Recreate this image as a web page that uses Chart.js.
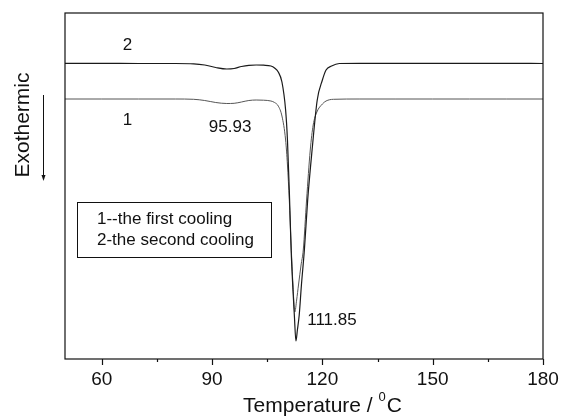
<!DOCTYPE html>
<html>
<head>
<meta charset="utf-8">
<script src="https://cdn.jsdelivr.net/npm/chart.js@4/dist/chart.umd.min.js"></script>
<style>
  body { margin: 0; background: #fff; }
  #wrap { width: 561px; height: 416px; }
</style>
</head>
<body>
<div id="wrap"><canvas id="dsc" width="561" height="416"></canvas></div>
<script>
// DSC cooling curves, heat flow in arbitrary units (no y scale shown)
const temp2 = [50, 60, 70, 80, 85, 88, 91, 94, 96, 98, 100, 102, 104, 106, 107, 108, 109, 110, 110.5, 111, 111.5, 112, 112.4, 112.8, 113.2, 113.7, 114.3, 115.1, 116, 117.2, 118.6, 120, 121, 122.5, 124.6, 130, 140, 150, 160, 170, 180];
const flow2 = [29.97, 29.97, 29.95, 29.95, 29.92, 29.8, 29.55, 29.4, 29.45, 29.65, 29.77, 29.8, 29.78, 29.7, 29.5, 29.1, 28.1, 25.3, 22.3, 17.3, 11.3, 7.3, 4.6, 2.2, 3.3, 4.8, 7.8, 11.3, 16.3, 21.3, 26.3, 28.3, 29.3, 29.7, 29.95, 29.97, 29.97, 29.97, 29.97, 29.97, 29.95];

const temp1 = [50, 60, 70, 80, 85, 88, 91, 94, 96, 98, 100, 102, 104, 106, 107, 108, 109, 110, 110.5, 111, 111.5, 112, 112.5, 113, 113.5, 114.2, 114.8, 115.7, 116.7, 117.5, 118.5, 120, 121, 123, 130, 140, 150, 160, 170, 180];
const flow1 = [26.4, 26.4, 26.4, 26.4, 26.37, 26.25, 26.05, 25.95, 25.97, 26.1, 26.25, 26.3, 26.28, 26.2, 26.05, 25.7, 24.7, 22.3, 19.8, 16.3, 11.8, 7.8, 5.1, 6.3, 7.8, 9.8, 11.3, 16.3, 21.3, 23.8, 25.1, 25.9, 26.2, 26.37, 26.4, 26.4, 26.4, 26.4, 26.4, 26.4];

const majorTicks = [60, 90, 120, 150, 180];
const minorTicks = [75, 105, 135, 165];

// text notes placed in data coordinates
const notes = [
  { text: '2', x: 67, y: 31.8 },
  { text: '1', x: 67, y: 24.3 },
  { text: '95.93', x: 94.9, y: 23.6 },
  { text: '111.85', x: 122.6, y: 4.3 }
];

function toPoints(xs, ys) {
  return xs.map((x, i) => ({ x: x, y: ys[i] }));
}

const FONT = '"Liberation Sans", Arial, sans-serif';

const framePlugin = {
  id: 'frame',
  afterDraw(chart) {
    const ctx = chart.ctx;
    const a = chart.chartArea;
    const xs = chart.scales.x;
    const ys = chart.scales.y;
    ctx.save();
    ctx.strokeStyle = '#111';
    ctx.lineWidth = 1.2;
    ctx.strokeRect(a.left, a.top, a.right - a.left, a.bottom - a.top);

    // bottom ticks, pointing out
    ctx.beginPath();
    majorTicks.forEach(t => {
      const px = Math.round(xs.getPixelForValue(t)) + 0.5;
      ctx.moveTo(px, a.bottom); ctx.lineTo(px, a.bottom + 6);
    });
    minorTicks.forEach(t => {
      const px = Math.round(xs.getPixelForValue(t)) + 0.5;
      ctx.moveTo(px, a.bottom); ctx.lineTo(px, a.bottom + 3);
    });
    ctx.stroke();

    ctx.fillStyle = '#111';
    ctx.textAlign = 'center';
    ctx.textBaseline = 'middle';
    ctx.font = '19px ' + FONT;
    majorTicks.forEach(t => {
      ctx.fillText(String(t), xs.getPixelForValue(t), a.bottom + 21);
    });

    // x title with superscript degree mark
    const main = 'Temperature / ';
    const sup = '0';
    const tail = 'C';
    ctx.font = '21px ' + FONT;
    const w1 = ctx.measureText(main).width;
    const w3 = ctx.measureText(tail).width;
    ctx.font = '13px ' + FONT;
    const w2 = ctx.measureText(sup).width;
    let x0 = 322 - (w1 + w2 + w3) / 2;
    ctx.textAlign = 'left';
    ctx.textBaseline = 'alphabetic';
    ctx.font = '21px ' + FONT;
    ctx.fillText(main, x0, 412);
    ctx.font = '13px ' + FONT;
    ctx.fillText(sup, x0 + w1, 401);
    ctx.font = '21px ' + FONT;
    ctx.fillText(tail, x0 + w1 + w2 + 1, 412);

    // y title and arrow
    ctx.save();
    ctx.translate(23, 125);
    ctx.rotate(-Math.PI / 2);
    ctx.textAlign = 'center';
    ctx.textBaseline = 'middle';
    ctx.font = '21px ' + FONT;
    ctx.fillText('Exothermic', 0, 0);
    ctx.restore();
    ctx.lineWidth = 1;
    ctx.beginPath();
    ctx.moveTo(43.5, 95); ctx.lineTo(43.5, 178);
    ctx.stroke();
    ctx.beginPath();
    ctx.moveTo(41.5, 175); ctx.lineTo(43.5, 181); ctx.lineTo(45.5, 175);
    ctx.closePath();
    ctx.fill();

    // notes
    ctx.font = '17px ' + FONT;
    ctx.textAlign = 'center';
    ctx.textBaseline = 'middle';
    notes.forEach(n => {
      ctx.fillText(n.text, xs.getPixelForValue(n.x), ys.getPixelForValue(n.y));
    });

    // legend box
    ctx.lineWidth = 1;
    ctx.strokeRect(77.5, 202.5, 194, 55);
    ctx.textAlign = 'left';
    ctx.font = '17px ' + FONT;
    ctx.fillText('1--the first cooling', 97, 219);
    ctx.fillText('2-the second cooling', 97, 240);
    ctx.restore();
  }
};

new Chart(document.getElementById('dsc'), {
  type: 'line',
  data: {
    datasets: [{
      label: '2',
      data: toPoints(temp2, flow2),
      borderColor: '#1a1a1a',
      borderWidth: 1.2,
      pointRadius: 0,
      tension: 0.4,
      cubicInterpolationMode: 'monotone'
    }, {
      label: '1',
      data: toPoints(temp1, flow1),
      borderColor: '#555',
      borderWidth: 1,
      pointRadius: 0,
      tension: 0.4,
      cubicInterpolationMode: 'monotone'
    }]
  },
  options: {
    responsive: false,
    animation: false,
    layout: { padding: { left: 65, top: 13, right: 18, bottom: 57 } },
    plugins: { legend: { display: false }, tooltip: { enabled: false } },
    scales: {
      x: { type: 'linear', min: 50, max: 180, display: false },
      y: { type: 'linear', min: 0.4, max: 35, display: false }
    }
  },
  plugins: [framePlugin]
});
</script>
</body>
</html>
